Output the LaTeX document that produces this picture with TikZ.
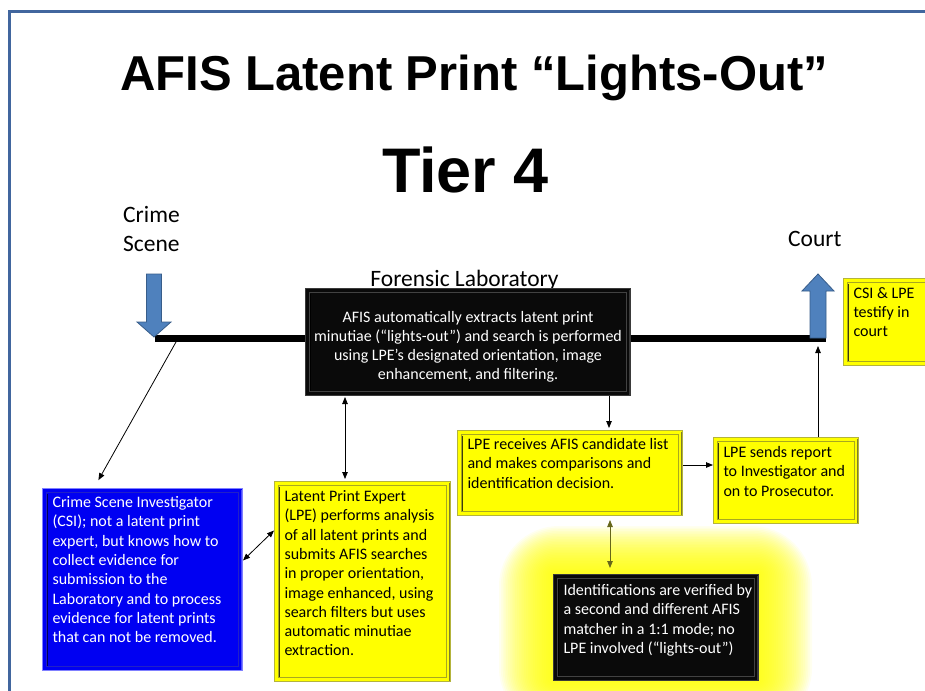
\documentclass[tikz,border=0pt]{standalone}
\usepackage{fontspec}
\setmainfont{Carlito}
\newfontfamily\headfont{Liberation Sans}
\usetikzlibrary{arrows.meta}

\definecolor{frameblue}{HTML}{41669E}
\definecolor{arrowblue}{HTML}{4F81BD}
\definecolor{arrowedge}{HTML}{385D8A}
\definecolor{yfill}{HTML}{FFFF00}
\definecolor{yedge}{HTML}{B4B43C}
\definecolor{yinner}{HTML}{A8A820}
\definecolor{ydark}{HTML}{3C3C08}
\definecolor{bfill}{HTML}{0000F2}
\definecolor{bedge}{HTML}{8080FF}
\definecolor{binner}{HTML}{2020C8}
\definecolor{bdark}{HTML}{00005A}
\definecolor{kfill}{HTML}{0A0A0A}
\definecolor{kedge}{HTML}{3A3A3A}
\definecolor{kinner}{HTML}{424242}
\definecolor{olivearrow}{HTML}{66661A}

% text block inside a framed panel: width, height, top gap, text
\newcommand\paneltext[4]{\hspace*{10pt}\parbox[t][#2pt][t]{\dimexpr#1pt-12pt\relax}{\vspace*{#3pt}\raggedright\strut #4}\hspace*{2pt}}

\tikzset{
  bodyfont/.style={font=\fontsize{16}{19.3}\selectfont},
  panel/.style={rectangle, anchor=north west, inner sep=0pt, line width=1pt, bodyfont},
  bevel/.style n args={3}{path picture={
      \draw[#1, line width=0.8pt]
        ([shift={(4pt,-4pt)}]path picture bounding box.north west) rectangle
        ([shift={(-4pt,4pt)}]path picture bounding box.south east);
      \draw[#2, line width=1.8pt]
        ([shift={(5pt,-5pt)}]path picture bounding box.north west) --
        ([shift={(5pt,5pt)}]path picture bounding box.south west);
      \draw[#3, line width=1.6pt]
        ([shift={(-1pt,-1pt)}]path picture bounding box.north east) --
        ([shift={(-1pt,1pt)}]path picture bounding box.south east);
  }},
  ypanel/.style={panel, fill=yfill, draw=yedge, text=black, bevel={yinner}{ydark}{yedge!70!black}},
  bpanel/.style={panel, fill=bfill, draw=bedge, text=white, bevel={binner}{bdark}{bedge!60!blue}},
  kpanel/.style={panel, fill=kfill, draw=kedge, text=white, bevel={kinner}{black}{kedge}},
  label/.style={inner sep=0pt, font=\fontsize{23.5}{29}\selectfont},
  arr/.style={draw=black, line width=0.8pt, -{Triangle[length=7pt,width=5.5pt]}},
  darr/.style={draw=black, line width=0.8pt, {Triangle[length=7pt,width=5.5pt]}-{Triangle[length=7pt,width=5.5pt]}},
  blockarrow/.style={fill=arrowblue, draw=arrowedge, line width=0.8pt, line join=miter},
}

\begin{document}
\begin{tikzpicture}[x=1pt, y=-1pt]
\useasboundingbox (0,0) rectangle (925,690);
\clip (0,0) rectangle (925,690);
\fill[white] (0,0) rectangle (925,690);

% slide frame
\draw[frameblue, line width=3pt] (9.5,700) -- (9.5,12) -- (935,12);

% headings
\node[anchor=base, inner sep=0pt, font=\headfont\bfseries\fontsize{49}{49}\selectfont] (title) at (474,91) {AFIS Latent Print “Lights-Out”};
\node[anchor=base, inner sep=0pt, font=\headfont\bfseries\fontsize{63}{63}\selectfont] (tier) at (465.5,192) {Tier 4};

% place labels
\node[label, anchor=base west] (scene) at (123,222) {\parbox[t]{90pt}{Crime\\Scene}};
\node[label, anchor=base west] (court) at (788,246) {Court};
\node[label, anchor=base] (lab) at (464.5,286) {Forensic Laboratory};

% main evidence flow line
\coordinate (flowstart) at (155,338.5);
\coordinate (flowend) at (826,338.5);
\draw[black, line width=7pt] (flowstart) -- (flowend);

% block arrows in and out
\draw[blockarrow] (146.5,274) -- (161.5,274) -- (161.5,322) -- (171,322) -- (154,337) -- (137,322) -- (146.5,322) -- cycle;
\draw[blockarrow] (810,338) -- (826,338) -- (826,291) -- (834,291) -- (818,274) -- (802,291) -- (810,291) -- cycle;

% soft glow behind the verification panel
\foreach \g in {1,...,30}
  \fill[yfill, opacity=0.06, rounded corners=\g*2pt]
    (553-1.8*\g,574-1.6*\g) rectangle (758+1.8*\g,680+1.6*\g);

% panels
\node[kpanel] (afis) at (305,288) {\parbox[t][107pt][t]{325pt}{\vspace*{20pt}\centering\strut AFIS automatically extracts latent print\\minutiae (“lights-out”) and search is performed\\using LPE’s designated orientation, image\\enhancement, and filtering.}};

\node[ypanel] (note) at (843,278) {\paneltext{90}{87}{6}{CSI \& LPE\\testify in\\court}};

\node[bpanel] (csi) at (42,488) {\paneltext{200}{182}{5.5}{Crime Scene Investigator\\(CSI); not a latent print\\expert, but knows how to\\collect evidence for\\submission to the\\Laboratory and to process\\evidence for latent prints\\that can not be removed.}};

\node[ypanel] (lpe) at (274,481) {\paneltext{176}{200}{6.5}{Latent Print Expert\\(LPE) performs analysis\\of all latent prints and\\submits AFIS searches\\in proper orientation,\\image enhanced, using\\search filters but uses\\automatic minutiae\\extraction.}};

\node[ypanel] (recv) at (457,430) {\paneltext{225}{85}{5.5}{LPE receives AFIS candidate list\\and makes comparisons and\\identification decision.}};

\node[ypanel] (send) at (713,437) {\paneltext{145}{86}{6.5}{LPE sends report\\to Investigator and\\on to Prosecutor.}};

\node[kpanel] (ident) at (553,574) {\paneltext{205}{106}{7.5}{Identifications are verified by\\a second and different AFIS\\matcher in a 1:1 mode; no\\LPE involved (“lights-out”)}};

% connectors
\coordinate (sceneFoot) at (176,342);
\coordinate (courtFoot) at (817,342);
\draw[arr, shorten >=9pt] (sceneFoot) -- ([xshift=52pt]csi.north west);
\draw[darr] ([yshift=19pt]csi.east) -- ([yshift=51pt]lpe.west);
\draw[darr, shorten <=1pt, shorten >=2pt] ([xshift=40pt]afis.south west) -- ([xshift=40pt]afis.south west |- lpe.north);
\draw[arr, shorten >=2pt] ([xshift=-22pt]afis.south east) -- ([xshift=-22pt]afis.south east |- recv.north);
\draw[arr] ([yshift=8pt]recv.east) -- ([yshift=8pt]recv.east -| send.west);
\draw[arr, shorten >=4pt] ([xshift=32pt]send.north) -- ([xshift=32pt]send.north |- courtFoot);
\draw[darr, draw=olivearrow, shorten <=4pt, shorten >=6pt] ([xshift=40pt]recv.south) -- ([xshift=40pt]recv.south |- ident.north);
\end{tikzpicture}
\end{document}
